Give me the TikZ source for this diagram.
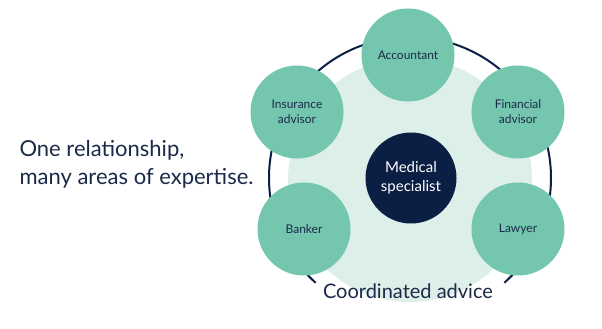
\documentclass[tikz,border=0pt]{standalone}
\usepackage{fontspec}
\setmainfont{Lato}
\usepackage{tikz}

\definecolor{navy}{HTML}{0B1F44}
\definecolor{mint}{HTML}{74C6AE}
\definecolor{palemint}{HTML}{DCEFE8}
\definecolor{inktext}{HTML}{1B2A4A}

\tikzset{
  advisor/.style={circle, fill=mint, minimum size=93pt, inner sep=0pt,
    align=center, text=inktext, font=\fontsize{12}{15}\selectfont},
  specialist/.style={circle, fill=navy, minimum size=91pt, inner sep=0pt,
    align=center, text=white, font=\fontsize{15}{19}\selectfont}
}

\begin{document}
\begin{tikzpicture}[x=1pt,y=-1pt]
\useasboundingbox (0,0) rectangle (602,329);
% ---- background disc and open ring ----
\fill[palemint] (410,180) circle (122);
\draw[navy, line width=2pt] (410,178) ++(132:141) arc[start angle=132, end angle=408, radius=141];
% ---- centre ----
\node[specialist] (med) at (411,178) {Medical\\specialist};
% ---- advisors round the ring ----
\foreach \x/\y/\nm/\txt in {408/55/acc/{Accountant}, 518/112/fin/{Financial\\advisor},
    297/112/ins/{Insurance\\advisor}, 304/229/bank/{Banker}, 518/229/law/{Lawyer}}
  \node[advisor] (\nm) at (\x,\y) {\txt};
% ---- captions ----
\node[anchor=base, text=inktext, font=\fontsize{20}{24}\selectfont] (coord) at (408,298) {Coordinated advice};
\node[anchor=west, align=left, text=inktext, font=\fontsize{22}{28}\selectfont] (claim) at (16,164)
  {One relationship,\\many areas of expertise.};
\end{tikzpicture}
\end{document}
